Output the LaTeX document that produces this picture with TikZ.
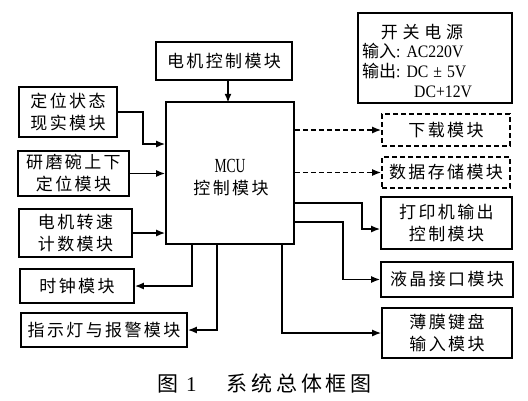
\documentclass[tikz,border=0pt]{standalone}
\usepackage{fontspec}
\setmainfont{Liberation Serif}
\newfontfamily\cjk[LetterSpace=14]{Noto Sans CJK SC}
\newfontfamily\cjkpw[LetterSpace=28]{Noto Sans CJK SC}
\newfontfamily\cjkcap[LetterSpace=18]{Noto Sans CJK SC}
\newfontfamily\cjktight{Noto Sans CJK SC}
\newfontfamily\narrow[FakeStretch=0.68]{Liberation Serif}
\newfontfamily\latpw[FakeStretch=0.9]{Liberation Serif}
\usetikzlibrary{arrows.meta}
\begin{document}
\begin{tikzpicture}[x=1pt,y=-1pt,
  box/.style={draw, line width=1.6pt, align=center, inner sep=0pt,
    font=\cjk\fontsize{17}{22}\selectfont},
  dbox/.style={box, dash pattern=on 5pt off 3pt},
  arr/.style={line width=1.6pt, -{Latex[length=9pt,width=7pt]}},
  darr/.style={arr, dash pattern=on 5pt off 3pt},
  txt/.style={inner sep=0pt, font=\latpw\fontsize{17.5}{20}\selectfont}]
\useasboundingbox (0,0) rectangle (528,400);
% left side
\node[box, minimum width=136pt, minimum height=38pt] (motor) at (224,61) {电机控制模块};
\node[box, minimum width=98pt, minimum height=50pt] (pos) at (68,112) {定位状态\\现实模块};
\node[box, minimum width=111pt, minimum height=45pt] (grind) at (73.5,173.5) {研磨碗上下\\定位模块};
\node[box, minimum width=113pt, minimum height=48pt] (speed) at (75.5,233) {电机转速\\计数模块};
\node[box, minimum width=114pt, minimum height=34pt] (clock) at (77,286) {时钟模块};
\node[box, minimum width=166pt, minimum height=34pt] (alarm) at (104,330) {指示灯与报警模块};
% MCU
\node[box, minimum width=128pt, minimum height=142pt] (mcu) at (230,173) {};
\node[txt, font=\narrow\fontsize{20}{22}\selectfont] (mcut) at (230,166) {MCU};
\node[txt, font=\cjk\fontsize{17}{22}\selectfont] (mcut2) at (231,188) {控制模块};
% right side
\node[draw, line width=1.6pt, minimum width=154pt, minimum height=90pt] (power) at (435,58) {};
\node[txt, font=\cjkpw\fontsize{17}{20}\selectfont] (pw1) at (422,32) {开关电源};
\node[txt, anchor=west] (pw2) at (362,51) {{\fontsize{17}{20}\cjkpw 输\cjktight 入}:\hspace{6pt}AC220V};
\node[txt, anchor=west] (pw3) at (362,71) {{\fontsize{17}{20}\cjkpw 输\cjktight 出}:\hspace{6pt}DC\hspace{5pt}±\hspace{5pt}5V};
\node[txt, anchor=west] (pw4) at (414,92) {DC+12V};
\node[dbox, minimum width=128pt, minimum height=32pt] (download) at (446,130) {下载模块};
\node[dbox, minimum width=128pt, minimum height=31pt] (storage) at (446,172.5) {数据存储模块};
\node[box, minimum width=131pt, minimum height=52pt] (printer) at (446.5,223) {打印机输出\\控制模块};
\node[box, minimum width=132pt, minimum height=35pt] (lcd) at (447,279.5) {液晶接口模块};
\node[box, minimum width=130pt, minimum height=50pt] (keyboard) at (447,333) {薄膜键盘\\输入模块};
% caption
\node[txt, font=\rmfamily\fontsize{21}{24}\selectfont, anchor=west] (cap) at (157,383) {{\cjktight 图}\hspace{8pt}1\hspace{30pt}{\cjkcap 系统总体框图}};
% connectors
\draw[arr] ([xshift=4pt]motor.south) -- ++(0,22);
\draw[arr] (pos.east) -- ++(25,0) |- ([yshift=29pt]mcu.west);
\draw[arr] (grind.east) -- (grind.east -| mcu.west);
\draw[arr] (speed.east) -- (speed.east -| mcu.west);
\draw[arr] ([xshift=-38pt]mcu.south) |- (clock.east);
\draw[arr] ([xshift=-13pt]mcu.south) |- (alarm.east);
\draw[arr] ([xshift=52pt]mcu.south) |- (keyboard.west);
\draw[darr] (download.west -| mcu.east) -- (download.west);
\draw[darr] (storage.west -| mcu.east) -- (storage.west);
\draw[arr] ([yshift=-30pt]mcu.east) -- ++(67,0) |- ([yshift=-6pt]printer.west);
\draw[arr] ([yshift=-49pt]mcu.east) -- ++(48,0) |- (lcd.west);
\end{tikzpicture}
\end{document}
